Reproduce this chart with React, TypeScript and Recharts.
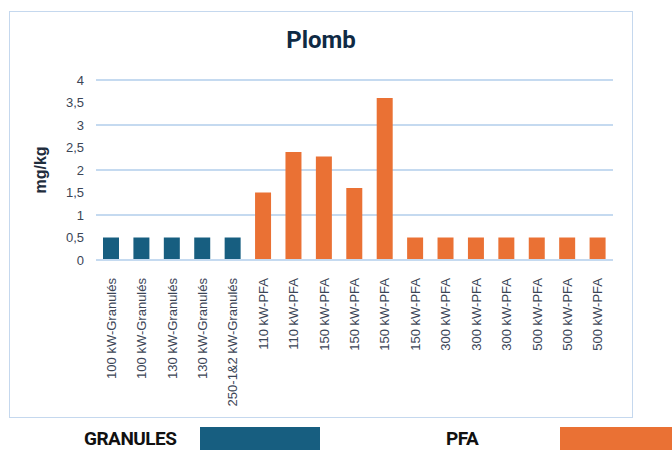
import React from 'react';
import { BarChart, Bar, XAxis, YAxis, CartesianGrid, Cell } from 'recharts';

const categories = [
  '100 kW-Granulés',
  '100 kW-Granulés',
  '130 kW-Granulés',
  '130 kW-Granulés',
  '250-1&2 kW-Granulés',
  '110 kW-PFA',
  '110 kW-PFA',
  '150 kW-PFA',
  '150 kW-PFA',
  '150 kW-PFA',
  '150 kW-PFA',
  '300 kW-PFA',
  '300 kW-PFA',
  '300 kW-PFA',
  '500 kW-PFA',
  '500 kW-PFA',
  '500 kW-PFA',
];
const values = [0.5, 0.5, 0.5, 0.5, 0.5, 1.5, 2.4, 2.3, 1.6, 3.6, 0.5, 0.5, 0.5, 0.5, 0.5, 0.5, 0.5];
const groups = ['GRANULES', 'GRANULES', 'GRANULES', 'GRANULES', 'GRANULES',
  'PFA', 'PFA', 'PFA', 'PFA', 'PFA', 'PFA', 'PFA', 'PFA', 'PFA', 'PFA', 'PFA', 'PFA'];
const yTicks = [0, 0.5, 1, 1.5, 2, 2.5, 3, 3.5, 4];

const COLORS: Record<string, string> = { GRANULES: '#175e80', PFA: '#ea7134' };
const GRID = '#c5daf0';
const TEXT = '#3b4556';

const data = categories.map((name, i) => ({ id: i, name, value: values[i], group: groups[i] }));

const XTick = ({ x, y, payload }: any) => (
  <g transform={`translate(${x},${y + 10})`}>
    <text transform="rotate(-90)" textAnchor="end" dy="0.35em" fill={TEXT} fontSize={13}
      fontFamily="'Liberation Sans', Arial, sans-serif">
      {categories[payload.value]}
    </text>
  </g>
);

const fmt = (v: number) => String(v).replace('.', ',');

export default function App() {
  return (
    <div style={{ position: 'absolute', left: 0, top: 0, width: 672, height: 450, background: '#fff', overflow: 'hidden' }}>
      <div style={{ position: 'absolute', left: 9, top: 11, width: 622, height: 405, border: '1.5px solid #c5d8ee' }} />
      <div style={{ position: 'absolute', left: 0, width: 642, top: 26, textAlign: 'center', fontFamily: 'Roboto, sans-serif', fontWeight: 700, fontSize: 24, color: '#0f2a44' }}>
        Plomb
      </div>
      <div style={{ position: 'absolute', left: 0, top: 0 }}>
        <BarChart width={672} height={450} data={data} margin={{ top: 80, right: 59, bottom: 30, left: 36 }} barCategoryGap="23%">
          <CartesianGrid vertical={false} stroke={GRID} strokeWidth={2} />
          <XAxis dataKey="id" type="category" interval={0} height={160} tick={<XTick />} tickLine={false}
            axisLine={{ stroke: GRID, strokeWidth: 2 }} />
          <YAxis domain={[0, 4]} ticks={yTicks} width={60} tickFormatter={fmt} axisLine={false} tickLine={false}
            tickSize={0} tickMargin={12}
            tick={{ fill: TEXT, fontSize: 13, fontFamily: "'Liberation Sans', Arial, sans-serif" }}
            label={{ value: 'mg/kg', angle: -90, position: 'insideLeft', offset: 0, dx: 4,
              style: { textAnchor: 'middle', fill: '#1f2d3d', fontSize: 16, fontWeight: 700, fontFamily: "'Liberation Sans', Arial, sans-serif" } }} />
          <Bar dataKey="value" isAnimationActive={false}>
            {data.map((d) => (
              <Cell key={d.id} fill={COLORS[d.group]} />
            ))}
          </Bar>
        </BarChart>
      </div>
      <div style={{ position: 'absolute', left: 84, top: 428, fontFamily: 'Roboto, sans-serif', fontWeight: 700, fontSize: 19, lineHeight: '22px', color: '#111', letterSpacing: -0.5 }}>GRANULES</div>
      <div style={{ position: 'absolute', left: 200, top: 427, width: 120, height: 23, background: COLORS.GRANULES }} />
      <div style={{ position: 'absolute', left: 446, top: 428, fontFamily: 'Roboto, sans-serif', fontWeight: 700, fontSize: 19, lineHeight: '22px', color: '#111', letterSpacing: -0.5 }}>PFA</div>
      <div style={{ position: 'absolute', left: 560, top: 427, width: 112, height: 23, background: COLORS.PFA }} />
    </div>
  );
}
